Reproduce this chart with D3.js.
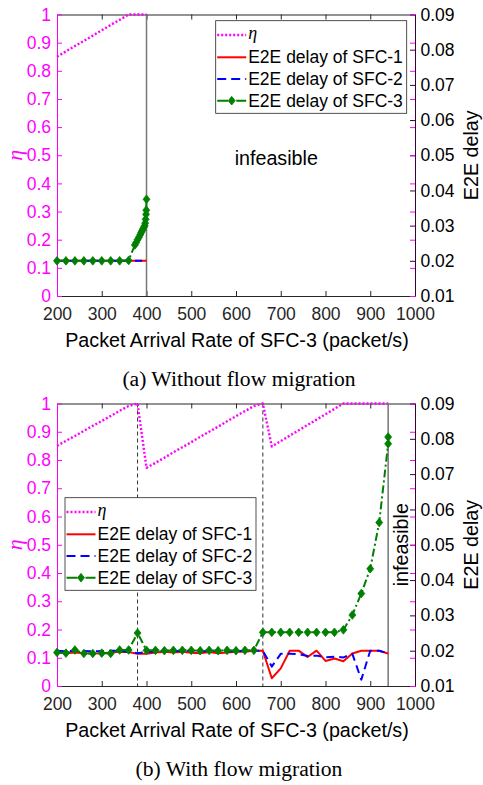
<!DOCTYPE html>
<html>
<head>
<meta charset="utf-8">
<script src="https://cdn.jsdelivr.net/npm/d3@7"></script>
<style>
  body { margin: 0; background: #fff; }
  svg { display: block; background: #fff; font-family: "Liberation Sans", Arial, sans-serif; }
</style>
</head>
<body>
<svg id="chart" width="483" height="785"></svg>
<script>
'use strict';

// shared axes
const xTicks = [200, 300, 400, 500, 600, 700, 800, 900, 1000];
const xTickLabels = ['200', '300', '400', '500', '600', '700', '800', '900', '1000'];
const etaTicks = [0, 0.1, 0.2, 0.3, 0.4, 0.5, 0.6, 0.7, 0.8, 0.9, 1];
const etaTickLabels = ['0', '0.1', '0.2', '0.3', '0.4', '0.5', '0.6', '0.7', '0.8', '0.9', '1'];
const delayTicks = [0.01, 0.02, 0.03, 0.04, 0.05, 0.06, 0.07, 0.08, 0.09];
const delayTickLabels = ['0.01', '0.02', '0.03', '0.04', '0.05', '0.06', '0.07', '0.08', '0.09'];
const legendLabels = ['η', 'E2E delay of SFC-1', 'E2E delay of SFC-2', 'E2E delay of SFC-3'];
const xLabel = 'Packet Arrival Rate of SFC-3 (packet/s)';
const etaLabel = 'η';
const delayLabel = 'E2E delay';

// (a) without flow migration
const rateA = [200, 220, 240, 260, 280, 300, 320, 340, 360, 380, 400];
const etaA = [0.85, 0.869, 0.888, 0.906, 0.925, 0.944, 0.963, 0.981, 1.0, 1.0, 1.0];
const delaySfc1A = [0.02, 0.02, 0.02, 0.02, 0.02, 0.02, 0.02, 0.02, 0.02, 0.02, 0.02];
const rateSfc2A = [200, 220, 240, 260, 280, 300, 320, 340, 360, 380, 390];
const delaySfc2A = [0.02, 0.02, 0.02, 0.02, 0.02, 0.02, 0.02, 0.02, 0.02, 0.02, 0.02];
const rateSfc3A = [200, 220, 240, 260, 280, 300, 320, 340, 360, 374, 377, 380, 383, 386, 388,
  390, 392, 394, 396, 397, 398, 399, 399.5, 400];
const delaySfc3A = [0.02, 0.02, 0.02, 0.02, 0.02, 0.02, 0.02, 0.02, 0.0201, 0.0245, 0.0252, 0.026,
  0.0267, 0.0274, 0.028, 0.0285, 0.029, 0.0295, 0.03, 0.0307, 0.0318, 0.0332, 0.0344, 0.0375];
const limitA = 400;

// (b) with flow migration
const rateB = [200, 220, 240, 260, 280, 300, 320, 340, 360, 380, 400, 420, 440, 460, 480, 500,
  520, 540, 560, 580, 600, 620, 640, 660, 680, 700, 720, 740, 760, 780, 800, 820, 840, 860, 880,
  900, 920, 940];
const etaB = [0.85, 0.868, 0.885, 0.903, 0.921, 0.938, 0.956, 0.974, 0.991, 1.0, 0.772, 0.79,
  0.808, 0.827, 0.845, 0.863, 0.882, 0.9, 0.918, 0.937, 0.955, 0.973, 0.991, 1.0, 0.848, 0.867,
  0.886, 0.905, 0.924, 0.943, 0.962, 0.981, 1.0, 1.0, 1.0, 1.0, 1.0, 1.0];
const delaySfc1B = [0.0195, 0.0193, 0.0195, 0.0193, 0.0192, 0.0193, 0.0195, 0.0197, 0.0196,
  0.0191, 0.0191, 0.0195, 0.0197, 0.0195, 0.0197, 0.0194, 0.0193, 0.0196, 0.0193, 0.0195,
  0.0197, 0.0197, 0.02, 0.02, 0.0122, 0.015, 0.02, 0.02, 0.0182, 0.02, 0.0171, 0.0178, 0.017,
  0.0192, 0.02, 0.02, 0.02, 0.0192];
const delaySfc2B = [0.02, 0.0198, 0.02, 0.0199, 0.0198, 0.0199, 0.02, 0.02, 0.0196, 0.0193,
  0.0196, 0.0198, 0.02, 0.0199, 0.0199, 0.02, 0.0198, 0.0199, 0.02, 0.0198, 0.0199, 0.02, 0.02,
  0.02, 0.0155, 0.0191, 0.0191, 0.019, 0.0185, 0.0186, 0.0181, 0.0183, 0.0181, 0.0191, 0.0118,
  0.02, 0.02, 0.0192];
const rateSfc3B = [200, 220, 240, 260, 280, 300, 320, 340, 360, 380, 400, 420, 440, 460, 480,
  500, 520, 540, 560, 580, 600, 620, 640, 660, 680, 700, 720, 740, 760, 780, 800, 820, 840, 860,
  880, 900, 920, 940, 940];
const delaySfc3B = [0.0195, 0.0193, 0.0202, 0.0192, 0.0192, 0.0193, 0.0192, 0.0202, 0.0202,
  0.025, 0.0201, 0.0201, 0.02, 0.0201, 0.0201, 0.0201, 0.02, 0.0201, 0.02, 0.0201, 0.02, 0.0201,
  0.0201, 0.0252, 0.0252, 0.0252, 0.0252, 0.0252, 0.0252, 0.0252, 0.0252, 0.0252, 0.0259,
  0.0301, 0.0362, 0.0432, 0.0563, 0.0786, 0.0805];
const migrationsB = [380, 660];
const limitB = 940;

const magenta = '#ff00ff';
const red = '#ff0000';
const blue = '#0000ff';
const green = '#008000';
const axisDark = '#262626';
const tickFont = 17.5;
const labelFont = 19.7;

const plotLeft = 57;
const plotRight = 415;

const svg = d3.select('#chart');

// MATLAB style filled diamond
const diamond = {
  draw(context, size) {
    const w = Math.sqrt(size / 2.5);
    const h = w * 1.25;
    context.moveTo(0, -h);
    context.lineTo(w, 0);
    context.lineTo(0, h);
    context.lineTo(-w, 0);
    context.closePath();
  }
};
const markerPath = d3.symbol().type(diamond).size(30)();

const styles = {
  eta: {stroke: magenta, width: 2.4, dash: '2,2'},
  sfc1: {stroke: red, width: 2, dash: null},
  sfc2: {stroke: blue, width: 2, dash: '8,5'},
  sfc3: {stroke: green, width: 2, dash: '8,3,2,3'}
};

function styleAxis(sel, colour) {
  sel.attr('font-size', null).attr('font-family', null);
  sel.select('.domain').attr('stroke', colour).attr('stroke-width', 1);
  sel.selectAll('.tick line').attr('stroke', colour).attr('stroke-width', 1);
  sel.selectAll('.tick text').attr('fill', colour).style('font-size', tickFont + 'px');
}

function drawSeries(g, xs, ys, xScale, yScale, style, markers) {
  const pts = d3.zip(xs, ys);
  const line = d3.line().x(d => xScale(d[0])).y(d => yScale(d[1]));
  g.append('path')
    .datum(pts)
    .attr('d', line)
    .attr('fill', 'none')
    .attr('stroke', style.stroke)
    .attr('stroke-width', style.width)
    .attr('stroke-dasharray', style.dash)
    .attr('stroke-linejoin', 'round');
  if (markers) {
    g.selectAll(null)
      .data(pts)
      .enter()
      .append('path')
      .attr('d', markerPath)
      .attr('transform', d => 'translate(' + xScale(d[0]) + ',' + yScale(d[1]) + ')')
      .attr('fill', style.stroke)
      .attr('stroke', style.stroke)
      .attr('stroke-width', 0.8);
  }
}

function drawLegend(g, x0, y0) {
  const boxW = 191;
  const boxH = 92.6;
  const rows = [14.3, 36.6, 58.3, 80];
  const keys = ['eta', 'sfc1', 'sfc2', 'sfc3'];
  const lg = g.append('g').attr('transform', 'translate(' + x0 + ',' + y0 + ')');
  lg.append('rect')
    .attr('width', boxW)
    .attr('height', boxH)
    .attr('fill', '#fff')
    .attr('stroke', axisDark)
    .attr('stroke-width', 0.8);
  keys.forEach((k, i) => {
    const st = styles[k];
    lg.append('line')
      .attr('x1', 1.5).attr('x2', 30.5)
      .attr('y1', rows[i]).attr('y2', rows[i])
      .attr('stroke', st.stroke)
      .attr('stroke-width', st.width)
      .attr('stroke-dasharray', k === 'sfc2' ? '9,5' : (k === 'sfc3' ? '11,3,2,3' : st.dash));
    if (k === 'sfc3') {
      lg.append('path')
        .attr('d', markerPath)
        .attr('transform', 'translate(16,' + rows[i] + ')')
        .attr('fill', green)
        .attr('stroke', green)
        .attr('stroke-width', 0.8);
    }
    const t = lg.append('text')
      .attr('x', 32.5)
      .attr('y', rows[i])
      .attr('dy', '0.35em')
      .style('font-size', tickFont + 'px')
      .attr('fill', '#000')
      .text(legendLabels[i]);
    if (k === 'eta') {
      t.style('font-family', '"Liberation Serif", "Times New Roman", serif')
        .style('font-style', 'italic')
        .style('font-size', '18px')
        .attr('dy', '0.2em');
    }
  });
}

function drawPanel(p) {
  const g = svg.append('g');

  const x = d3.scaleLinear().domain([200, 1000]).range([plotLeft, plotRight]);
  const yEta = d3.scaleLinear().domain([0, 1]).range([p.bottom, p.top]);
  const yDelay = d3.scaleLinear().domain([0.01, 0.09]).range([p.bottom, p.top]);

  // axes: ticks point inwards, MATLAB box style
  g.append('g')
    .attr('transform', 'translate(0,' + p.bottom + ')')
    .call(d3.axisBottom(x).tickValues(xTicks).tickSizeInner(-5).tickSizeOuter(0).tickPadding(11.5)
      .tickFormat((d, i) => xTickLabels[i]))
    .call(s => styleAxis(s, axisDark));

  g.append('g')
    .attr('transform', 'translate(0,' + p.top + ')')
    .call(d3.axisTop(x).tickValues(xTicks).tickSizeInner(-5).tickSizeOuter(0).tickFormat(''))
    .call(s => styleAxis(s, axisDark));

  g.append('g')
    .attr('transform', 'translate(' + plotRight + ',0)')
    .call(d3.axisRight(yDelay).tickValues(delayTicks).tickSizeInner(-5).tickSizeOuter(0)
      .tickPadding(5.5).tickFormat((d, i) => delayTickLabels[i]))
    .call(s => styleAxis(s, '#3a003a'))
    .call(s => s.selectAll('.tick text').attr('fill', '#000'));

  // left axis ticks mirrored on the right side
  g.append('g')
    .attr('transform', 'translate(' + plotRight + ',0)')
    .call(d3.axisRight(yEta).tickValues(etaTicks).tickSizeInner(-5).tickSizeOuter(0).tickFormat(''))
    .call(s => styleAxis(s, magenta))
    .call(s => s.select('.domain').remove());

  g.append('g')
    .attr('transform', 'translate(' + plotLeft + ',0)')
    .call(d3.axisLeft(yEta).tickValues(etaTicks).tickSizeInner(-5).tickSizeOuter(0)
      .tickPadding(6).tickFormat((d, i) => etaTickLabels[i]))
    .call(s => styleAxis(s, magenta));

  // axis titles
  g.append('text')
    .attr('x', (plotLeft + plotRight) / 2 + 1)
    .attr('y', p.bottom + 51)
    .attr('text-anchor', 'middle')
    .style('font-size', labelFont + 'px')
    .text(xLabel);

  g.append('text')
    .attr('transform', 'translate(22,' + ((p.top + p.bottom) / 2) + ') rotate(-90)')
    .attr('text-anchor', 'middle')
    .style('font-family', '"Liberation Serif", "Times New Roman", serif')
    .style('font-style', 'italic')
    .style('font-size', '22px')
    .attr('fill', magenta)
    .text(etaLabel);

  g.append('text')
    .attr('transform', 'translate(478,' + ((p.top + p.bottom) / 2) + ') rotate(-90)')
    .attr('text-anchor', 'middle')
    .style('font-size', labelFont + 'px')
    .text(delayLabel);

  // vertical markers
  p.migrations.forEach(m => {
    g.append('line')
      .attr('x1', x(m)).attr('x2', x(m))
      .attr('y1', p.top).attr('y2', p.bottom)
      .attr('stroke', '#333')
      .attr('stroke-width', 1)
      .attr('stroke-dasharray', '4,3');
  });
  g.append('line')
    .attr('x1', x(p.limit)).attr('x2', x(p.limit))
    .attr('y1', p.top).attr('y2', p.bottom)
    .attr('stroke', '#777')
    .attr('stroke-width', 1.5);

  // series
  drawSeries(g, p.rateEta, p.eta, x, yEta, styles.eta, false);
  drawSeries(g, p.rateSfc1, p.sfc1, x, yDelay, styles.sfc1, false);
  drawSeries(g, p.rateSfc2, p.sfc2, x, yDelay, styles.sfc2, false);
  drawSeries(g, p.rateSfc3, p.sfc3, x, yDelay, styles.sfc3, true);

  p.extra(g, x, yDelay);

  drawLegend(g, p.legendX, p.legendY);

  g.append('text')
    .attr('x', 239)
    .attr('y', p.captionY)
    .attr('text-anchor', 'middle')
    .style('font-family', '"Liberation Serif", "Times New Roman", serif')
    .style('font-size', '21.6px')
    .text(p.caption);
}

drawPanel({
  top: 14.5,
  bottom: 296,
  rateEta: rateA, eta: etaA,
  rateSfc1: rateA, sfc1: delaySfc1A,
  rateSfc2: rateSfc2A, sfc2: delaySfc2A,
  rateSfc3: rateSfc3A, sfc3: delaySfc3A,
  migrations: [],
  limit: limitA,
  legendX: 215.7,
  legendY: 20.7,
  caption: '(a) Without flow migration',
  captionY: 386,
  extra: (g, x, y) => {
    g.append('text')
      .attr('x', x(690))
      .attr('y', y(0.0472))
      .attr('text-anchor', 'middle')
      .style('font-size', labelFont + 'px')
      .text('infeasible');
  }
});

drawPanel({
  top: 403.5,
  bottom: 686,
  rateEta: rateB, eta: etaB,
  rateSfc1: rateB, sfc1: delaySfc1B,
  rateSfc2: rateB, sfc2: delaySfc2B,
  rateSfc3: rateSfc3B, sfc3: delaySfc3B,
  migrations: migrationsB,
  limit: limitB,
  legendX: 65,
  legendY: 497.7,
  caption: '(b) With flow migration',
  captionY: 776,
  extra: (g, x, y) => {
    g.append('text')
      .attr('transform', 'translate(' + (x(limitB) + 20) + ',' + y(0.05) + ') rotate(-90)')
      .attr('text-anchor', 'middle')
      .style('font-size', labelFont + 'px')
      .text('infeasible');
  }
});
</script>
</body>
</html>
